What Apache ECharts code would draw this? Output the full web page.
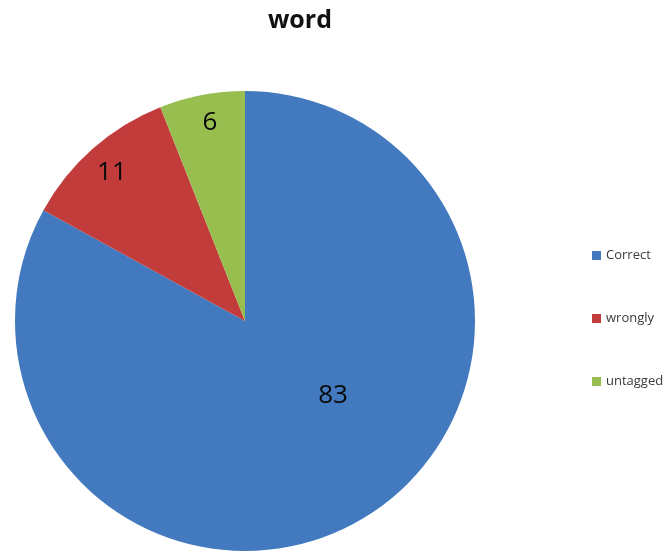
<!DOCTYPE html>
<html>
<head>
<meta charset="utf-8">
<script src="https://cdn.jsdelivr.net/npm/echarts@6/dist/echarts.min.js"></script>
<style>html,body{margin:0;padding:0;background:#fff;}#c{width:664px;height:553px;}</style>
</head>
<body>
<div id="c"></div>
<script>
var categories = ['Correct', 'wrongly', 'untagged'];
var values = [83, 11, 6];
var colors = ['#4279BF', '#C33C3C', '#98BE4F'];

var chart = echarts.init(document.getElementById('c'));
chart.setOption({
  animation: false,
  backgroundColor: '#ffffff',
  color: colors,
  title: {
    text: 'word',
    left: 295, top: 3, textAlign: 'center',
    textStyle: { fontFamily: 'Open Sans', fontWeight: 'bold', fontSize: 25, color: '#111' }
  },
  legend: {
    orient: 'vertical',
    left: 587, top: 244,
    itemWidth: 9, itemHeight: 9, itemGap: 50,
    icon: 'rect',
    textStyle: { fontFamily: 'Open Sans', fontSize: 13, color: '#3a3a3a' },
    data: categories
  },
  series: [{
    type: 'pie',
    center: [245, 321],
    radius: 230,
    startAngle: 90,
    clockwise: true,
    silent: true,
    label: {
      show: true, position: 'inside', formatter: '{c}',
      fontFamily: 'Open Sans', fontSize: 26, color: '#0a0a0a'
    },
    labelLine: { show: false },
    labelLayout: function (p) {
      if (p.dataIndex === 0) return { dx: 28, dy: -27 };
      if (p.dataIndex === 1) return { dx: -55, dy: -60 };
      return { dx: -13, dy: -82 };
    },
    itemStyle: { borderWidth: 0 },
    data: categories.map(function (n, i) { return { name: n, value: values[i] }; })
  }]
});
</script>
</body>
</html>
